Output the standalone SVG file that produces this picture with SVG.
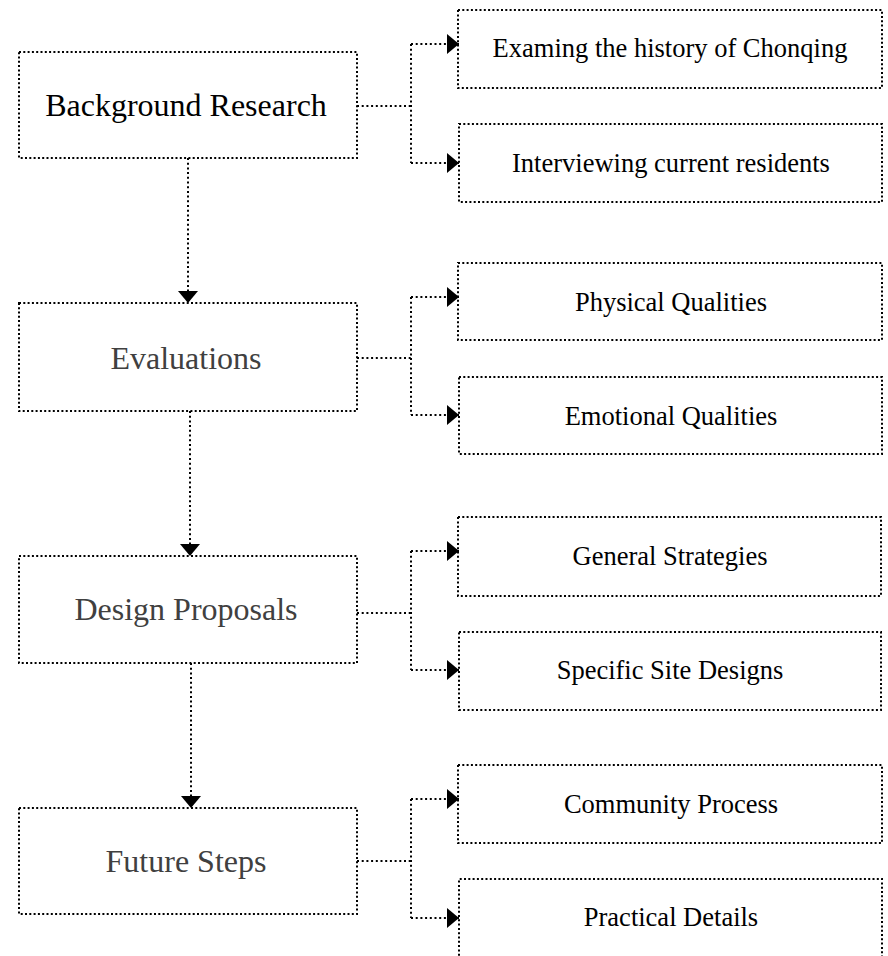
<svg xmlns="http://www.w3.org/2000/svg" width="888" height="956" viewBox="0 0 888 956">
<defs>
<style>
.box{fill:none;stroke:#000;stroke-width:2;stroke-dasharray:2 2.3}
.con{fill:none;stroke:#000;stroke-width:2;stroke-dasharray:2 2.7}
.main{font-family:"Liberation Serif","Times New Roman",serif;font-size:32px;text-anchor:middle}
.sub{font-family:"Liberation Serif","Times New Roman",serif;font-size:26.5px;text-anchor:middle;fill:#000}
.gray{fill:#404040}
</style>
<marker id="arr" viewBox="0 0 12 20" refX="12" refY="10" markerWidth="12" markerHeight="20" markerUnits="userSpaceOnUse" orient="auto">
<path d="M0,0 L12,10 L0,20 Z" fill="#000"/>
</marker>
</defs>
<rect width="888" height="956" fill="#fff"/>
<g id="connectors">
<path class="con" d="M357,106 H411 M411,44 V163"/>
<path class="con" d="M411,44 H459" marker-end="url(#arr)"/>
<path class="con" d="M411,163 H459" marker-end="url(#arr)"/>
<path class="con" d="M357,358 H411 M411,297 V415"/>
<path class="con" d="M411,297 H459" marker-end="url(#arr)"/>
<path class="con" d="M411,415 H459" marker-end="url(#arr)"/>
<path class="con" d="M357,613 H411 M411,551 V670"/>
<path class="con" d="M411,551 H459" marker-end="url(#arr)"/>
<path class="con" d="M411,670 H459" marker-end="url(#arr)"/>
<path class="con" d="M357,861 H411 M411,799 V918"/>
<path class="con" d="M411,799 H459" marker-end="url(#arr)"/>
<path class="con" d="M411,918 H459" marker-end="url(#arr)"/>
<path class="con" d="M188,158 V303" marker-end="url(#arr)"/>
<path class="con" d="M190,411 V556" marker-end="url(#arr)"/>
<path class="con" d="M191,663 V808" marker-end="url(#arr)"/>
</g>
<g id="background-research">
<rect class="box" x="19" y="52" width="338" height="106"/>
<text class="main" x="186" y="116">Background Research</text>
</g>
<g id="evaluations">
<rect class="box" x="19" y="303" width="338" height="108"/>
<text class="main gray" x="186" y="369">Evaluations</text>
</g>
<g id="design-proposals">
<rect class="box" x="19" y="556" width="338" height="107"/>
<text class="main gray" x="186" y="620">Design Proposals</text>
</g>
<g id="future-steps">
<rect class="box" x="19" y="808" width="338" height="106"/>
<text class="main gray" x="186" y="872">Future Steps</text>
</g>
<g id="history">
<rect class="box" x="458" y="10" width="424" height="78"/>
<text class="sub" x="670" y="57">Examing the history of Chonqing</text>
</g>
<g id="residents">
<rect class="box" x="459" y="124" width="423" height="78"/>
<text class="sub" x="671" y="172">Interviewing current residents</text>
</g>
<g id="physical">
<rect class="box" x="458" y="263" width="424" height="77"/>
<text class="sub" x="671" y="311">Physical Qualities</text>
</g>
<g id="emotional">
<rect class="box" x="459" y="377" width="423" height="77"/>
<text class="sub" x="671" y="425">Emotional Qualities</text>
</g>
<g id="general">
<rect class="box" x="458" y="517" width="423" height="79"/>
<text class="sub" x="670" y="565">General Strategies</text>
</g>
<g id="specific">
<rect class="box" x="459" y="632" width="422" height="78"/>
<text class="sub" x="670" y="679">Specific Site Designs</text>
</g>
<g id="community">
<rect class="box" x="458" y="765" width="424" height="78"/>
<text class="sub" x="671" y="813">Community Process</text>
</g>
<g id="practical">
<path class="box" d="M459,960 V879 H882 V960"/>
<text class="sub" x="671" y="926">Practical Details</text>
</g>
</svg>
